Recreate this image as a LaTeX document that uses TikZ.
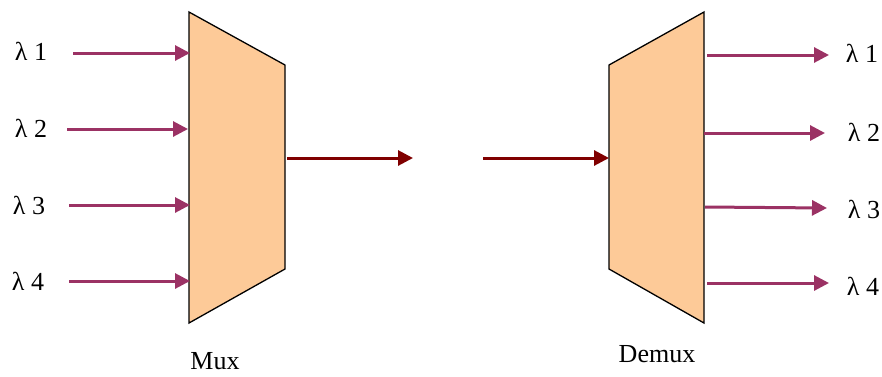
\documentclass[tikz,border=0pt]{standalone}
\usepackage{fontspec}
\setmainfont{Liberation Serif}
\usetikzlibrary{arrows.meta}
\definecolor{fillor}{RGB}{253,202,152}
\definecolor{purp}{RGB}{155,50,100}
\definecolor{dred}{RGB}{128,0,0}
\tikzset{
  lam/.style={font=\fontsize{26}{30}\selectfont, inner sep=0pt},
  boxlabel/.style={font=\fontsize{26}{30}\selectfont, inner sep=0pt},
  purparrow/.style={draw=purp, line width=3pt, -{Triangle[length=15pt,width=15pt]}},
  redarrow/.style={draw=dred, line width=3pt, -{Triangle[length=15pt,width=15pt]}},
  trap/.style={fill=fillor, draw=black, line width=1.3pt, line join=miter}
}
\begin{document}
\begin{tikzpicture}[x=1pt,y=-1pt]
\useasboundingbox (0,0) rectangle (882,376);
% Mux
\draw[trap] (189,12) -- (285,65) -- (285,269) -- (189,323) -- cycle;
% Demux
\draw[trap] (609,65) -- (704,12) -- (704,323) -- (609,269) -- cycle;
% input labels and coordinates
\node[lam] (l1) at (31,51) {λ 1};
\node[lam] (l2) at (31,128) {λ 2};
\node[lam] (l3) at (29,205) {λ 3};
\node[lam] (l4) at (28,281) {λ 4};
\coordinate (a1) at (73,53);  \coordinate (b1) at (190,53);
\coordinate (a2) at (67,129); \coordinate (b2) at (188,129);
\coordinate (a3) at (69,205); \coordinate (b3) at (190,205);
\coordinate (a4) at (69,281); \coordinate (b4) at (190,281);
\draw[purparrow] (a1) -- (b1);
\draw[purparrow] (a2) -- (b2);
\draw[purparrow] (a3) -- (b3);
\draw[purparrow] (a4) -- (b4);
% middle
\coordinate (m1) at (287,158); \coordinate (m2) at (413,158);
\coordinate (m3) at (483,158); \coordinate (m4) at (609,158);
\draw[redarrow] (m1) -- (m2);
\draw[redarrow] (m3) -- (m4);
% outputs
\coordinate (c1) at (707,55);  \coordinate (d1) at (829,55);
\coordinate (c2) at (704,133); \coordinate (d2) at (825,133);
\coordinate (c3) at (705,207); \coordinate (d3) at (827,208);
\coordinate (c4) at (707,283); \coordinate (d4) at (829,283);
\draw[purparrow] (c1) -- (d1);
\draw[purparrow] (c2) -- (d2);
\draw[purparrow] (c3) -- (d3);
\draw[purparrow] (c4) -- (d4);
\node[lam] (r1) at (862,53) {λ 1};
\node[lam] (r2) at (864,132) {λ 2};
\node[lam] (r3) at (864,209) {λ 3};
\node[lam] (r4) at (863,286) {λ 4};
\node[boxlabel] (mux) at (215,361) {Mux};
\node[boxlabel] (demux) at (657,354) {Demux};
\end{tikzpicture}
\end{document}
